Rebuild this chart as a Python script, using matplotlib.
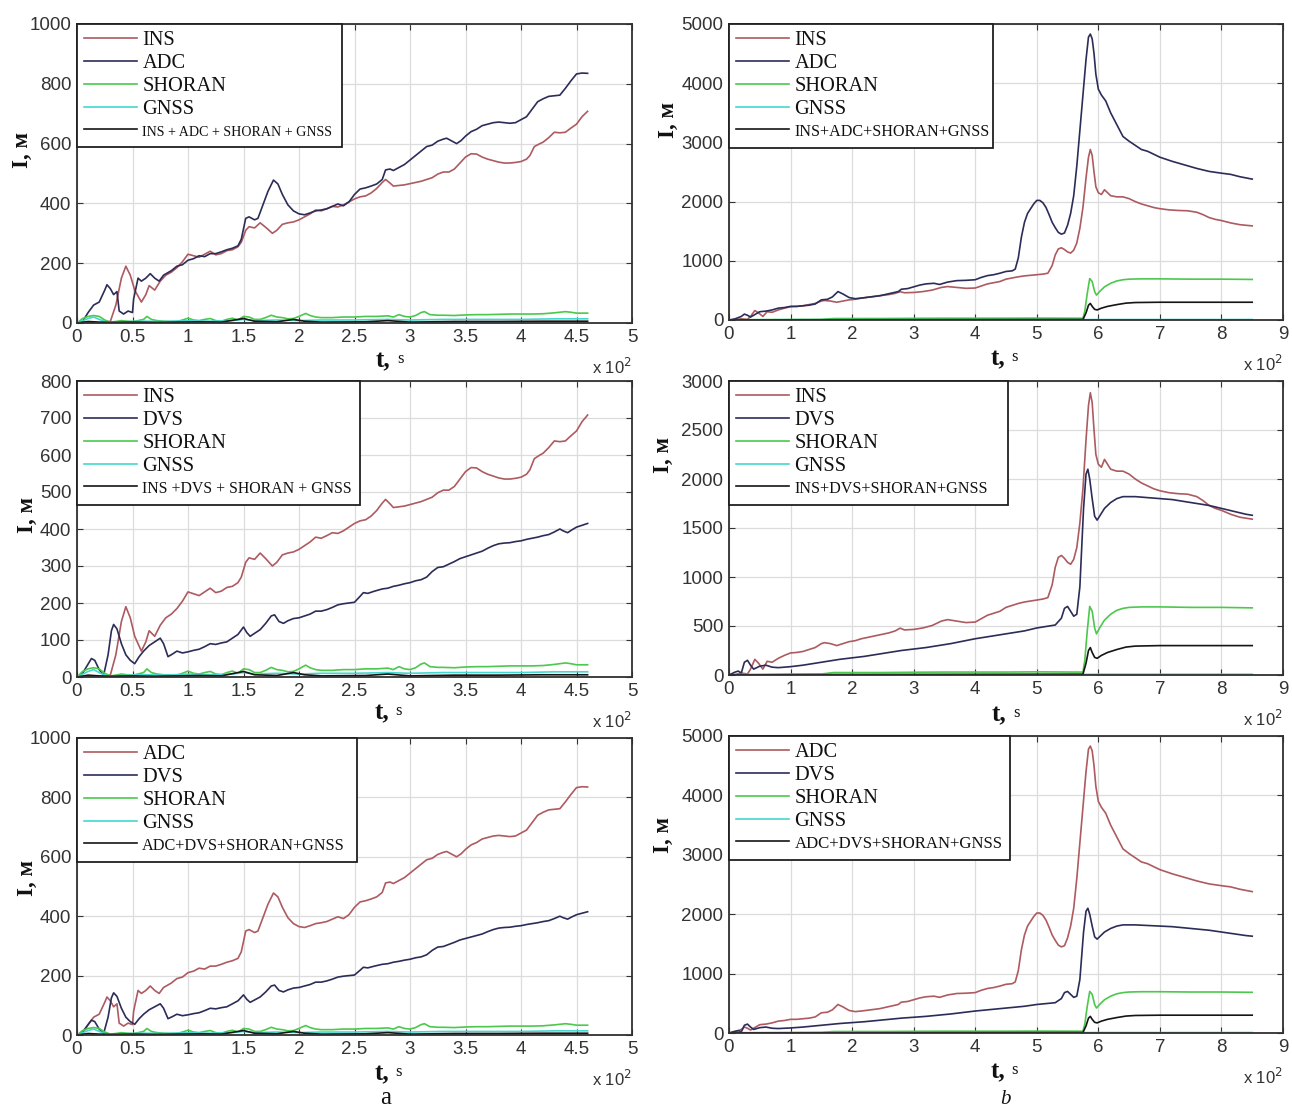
import matplotlib
matplotlib.use("Agg")
import matplotlib.pyplot as plt
from matplotlib.ticker import MultipleLocator, FuncFormatter

# ---------------- data (left column, t in seconds) ----------------
t_ins_a = [0, 10, 20, 30, 35, 40, 44, 48, 52, 58, 62, 65, 70, 75, 80, 85, 90, 95, 100, 105, 110, 115, 120, 125,
           130, 135, 140, 145, 148, 152, 155, 160, 165, 170, 176, 180, 185, 190, 195, 200, 205, 210, 215, 220,
           225, 230, 235, 240, 245, 250, 255, 260, 265, 270, 275, 278, 282, 285, 290, 295, 300, 305, 310, 315,
           320, 325, 330, 335, 340, 345, 350, 355, 360, 365, 370, 375, 380, 385, 390, 395, 400, 405, 408, 412,
           416, 420, 425, 430, 435, 440, 445, 450, 455, 460]
ins_a = [0, 2, 0, 5, 60, 150, 190, 160, 110, 70, 95, 125, 110, 140, 160, 170, 185, 205, 230, 225, 220, 230, 240, 228,
         232, 242, 245, 255, 270, 310, 322, 318, 335, 320, 300, 310, 330, 335, 338, 345, 355, 365, 378, 375,
         382, 390, 388, 395, 405, 415, 422, 425, 435, 450, 470, 480, 468, 458, 460, 462, 466, 470, 474, 480,
         486, 498, 505, 505, 515, 535, 555, 566, 565, 555, 548, 543, 538, 535, 535, 537, 540, 548, 560, 590,
         598, 605, 620, 638, 636, 638, 652, 665, 690, 708]

t_adc_a = [0, 5, 10, 15, 20, 25, 27, 30, 33, 36, 38, 42, 46, 50, 51, 55, 58, 62, 66, 70, 74, 78, 85, 90, 95, 100,
           105, 110, 115, 120, 125, 130, 135, 140, 145, 148, 152, 155, 160, 163, 167, 172, 177, 181, 185, 190,
           195, 200, 205, 210, 215, 220, 225, 230, 235, 240, 245, 250, 255, 260, 265, 270, 275, 278, 282, 285,
           290, 295, 300, 305, 310, 315, 320, 325, 330, 333, 337, 342, 346, 350, 355, 360, 365, 370, 375, 380,
           385, 390, 395, 400, 405, 410, 415, 420, 425, 430, 435, 440, 445, 450, 455, 460]
adc_a = [0, 5, 35, 60, 70, 110, 128, 115, 95, 105, 40, 30, 40, 35, 80, 150, 140, 150, 165, 150, 140, 160, 175, 190,
         195, 210, 215, 225, 222, 232, 232, 238, 245, 250, 258, 280, 350, 355, 345, 350, 390, 440, 478, 465,
         430, 395, 375, 365, 362, 368, 375, 378, 382, 390, 398, 392, 405, 430, 448, 452, 458, 465, 480, 512,
         515, 510, 520, 530, 545, 560, 575, 590, 595, 608, 615, 618, 610, 600, 610, 625, 640, 648, 660, 665,
         670, 672, 670, 668, 670, 680, 690, 715, 740, 750, 758, 760, 762, 785, 810, 833, 836, 835]

t_dvs_a = [0, 5, 10, 13, 16, 20, 24, 28, 31, 33, 36, 40, 44, 48, 52, 56, 60, 65, 70, 75, 78, 82, 86, 90, 95, 100,
           105, 110, 115, 120, 125, 130, 135, 140, 145, 150, 153, 156, 160, 165, 170, 175, 178, 182, 186, 190,
           195, 200, 205, 210, 215, 220, 225, 230, 235, 240, 245, 250, 255, 258, 262, 268, 275, 280, 285, 290,
           295, 300, 305, 310, 315, 320, 325, 330, 335, 340, 345, 350, 355, 360, 365, 370, 375, 380, 385, 390,
           395, 400, 405, 410, 415, 420, 425, 430, 435, 438, 442, 446, 450, 455, 460]
dvs_a = [0, 10, 35, 50, 45, 20, 5, 60, 125, 142, 130, 90, 60, 45, 36, 55, 70, 85, 95, 105, 90, 55, 62, 70, 65, 68,
         72, 75, 82, 90, 88, 92, 95, 105, 115, 135, 120, 110, 118, 128, 145, 165, 168, 150, 145, 152,
         158, 160, 165, 170, 178, 178, 182, 188, 195, 198, 200, 202, 218, 228, 226, 232, 238, 240, 245, 248,
         252, 255, 260, 263, 270, 285, 296, 298, 305, 312, 320, 325, 330, 335, 340, 348, 355, 360, 362, 363,
         366, 368, 372, 375, 378, 382, 385, 392, 400, 395, 390, 398, 405, 410, 415]

t_shoran_a = [0, 5, 10, 15, 20, 25, 30, 35, 40, 45, 50, 55, 60, 63, 67, 72, 78, 85, 90, 95, 100, 105, 110, 115,
              120, 125, 130, 135, 140, 145, 150, 155, 160, 165, 170, 175, 180, 185, 190, 195, 200, 206, 210, 215,
              220, 230, 240, 250, 260, 270, 280, 285, 290, 295, 300, 305, 310, 313, 318, 325, 330, 340, 350, 360,
              370, 380, 390, 400, 410, 420, 430, 440, 445, 450, 460]
shoran_a = [0, 15, 22, 25, 22, 10, 3, 5, 8, 6, 5, 8, 12, 22, 12, 8, 6, 5, 5, 10, 16, 10, 8, 12,
            15, 8, 6, 12, 16, 10, 22, 20, 12, 12, 18, 26, 20, 18, 14, 15, 22, 32, 25, 20,
            18, 18, 20, 20, 22, 22, 24, 20, 28, 22, 20, 25, 35, 38, 28, 26, 26, 25, 27, 28,
            28, 29, 30, 30, 30, 31, 34, 38, 36, 33, 33]

t_gnss_a = [0, 10, 15, 20, 25, 30, 40, 60, 80, 100, 120, 140, 150, 160, 180, 200, 220, 250, 280, 300, 330, 360,
            400, 430, 460]
gnss_a = [0, 15, 20, 12, 5, 2, 4, 6, 5, 8, 6, 8, 12, 8, 10, 8, 10, 10, 12, 10, 12, 12, 12, 14, 14]

t_comb_a = [0, 10, 20, 30, 50, 70, 90, 110, 130, 150, 160, 180, 195, 205, 220, 260, 280, 300, 340, 380, 420, 460]
comb_a = [0, 5, 3, 2, 3, 2, 3, 4, 3, 15, 6, 4, 12, 6, 3, 4, 8, 3, 5, 5, 6, 6]

# ---------------- data (right column, t in seconds) ----------------
t_ins_b = [0, 10, 20, 30, 35, 42, 48, 55, 62, 70, 80, 90, 100, 110, 120, 130, 140, 150, 155, 165, 175, 185, 195,
           205, 215, 230, 245, 260, 270, 278, 285, 300, 315, 330, 345, 355, 370, 385, 400, 410, 420, 430, 440,
           450, 460, 470, 480, 490, 500, 510, 518, 525, 530, 535, 540, 545, 550, 555, 560, 565, 570, 575, 580,
           584, 587, 590, 593, 596, 600, 605, 610, 615, 620, 630, 640, 650, 660, 670, 680, 690, 700, 715, 730,
           745, 760, 770, 780, 790, 800, 815, 830, 850]
ins_b = [0, 5, 20, 10, 60, 160, 120, 60, 140, 130, 170, 200, 225, 230, 240, 260, 280, 320, 330, 320, 300, 320, 340,
         350, 370, 390, 410, 430, 450, 478, 460, 465, 480, 505, 550, 565, 550, 535, 540, 575, 610, 630, 650,
         690, 710, 730, 745, 755, 765, 775, 790, 920, 1100, 1200, 1220, 1190, 1150, 1130, 1180, 1300, 1550, 1900, 2400,
         2750, 2880, 2780, 2500, 2250, 2150, 2120, 2200, 2150, 2100, 2080, 2080, 2050, 2000, 1960, 1930, 1900, 1880, 1860, 1850,
         1845, 1820, 1780, 1730, 1700, 1680, 1640, 1610, 1590]

t_adc_b = [0, 10, 20, 25, 30, 35, 40, 50, 60, 70, 80, 90, 100, 110, 120, 130, 140, 150, 160, 168, 177, 185, 195,
           205, 215, 230, 245, 260, 275, 280, 290, 300, 310, 320, 333, 342, 355, 370, 385, 400, 410, 420, 430,
           440, 450, 460, 465, 470, 475, 480, 485, 490, 495, 500, 505, 510, 515, 520, 525, 530, 535, 540, 545,
           550, 555, 560, 565, 570, 575, 580, 584, 587, 590, 593, 596, 600, 605, 612, 620, 630, 640, 650, 660,
           670, 680, 690, 700, 720, 740, 760, 780, 800, 815, 830, 850]
adc_b = [0, 20, 60, 100, 80, 50, 80, 140, 150, 170, 200, 210, 230, 230, 240, 250, 270, 340, 350, 390, 480, 440, 380,
         360, 370, 390, 410, 445, 480, 520, 530, 560, 590, 610, 620, 600, 640, 665, 670, 680, 720, 750, 765,
         790, 820, 830, 860, 1050, 1400, 1650, 1800, 1880, 1960, 2020, 2020, 1980, 1900, 1780, 1650, 1560, 1480, 1450, 1470,
         1600, 1800, 2100, 2600, 3200, 3800, 4400, 4780, 4830, 4750, 4500, 4150, 3900, 3800, 3700, 3500, 3300, 3100, 3020, 2950,
         2880, 2850, 2800, 2750, 2680, 2620, 2560, 2510, 2480, 2460, 2420, 2380]

t_dvs_b = [0, 10, 15, 20, 25, 30, 35, 40, 50, 60, 70, 80, 90, 100, 120, 140, 160, 180, 200, 220, 240, 260, 280,
           300, 320, 340, 360, 380, 400, 420, 440, 460, 480, 500, 520, 530, 540, 545, 550, 555, 560, 565, 570,
           573, 576, 580, 583, 586, 590, 594, 598, 602, 610, 620, 630, 640, 660, 680, 700, 720, 740, 760, 780,
           800, 820, 840, 850]
dvs_b = [0, 30, 40, 20, 130, 150, 100, 60, 90, 100, 80, 75, 80, 85, 100, 120, 140, 160, 175, 190, 210, 230, 250,
         265, 280, 300, 320, 345, 370, 390, 410, 430, 450, 480, 500, 510, 580, 680, 700, 650, 600, 620, 900,
         1300, 1700, 2050, 2100, 2000, 1800, 1620, 1580, 1620, 1700, 1760, 1800, 1820, 1820, 1810, 1800, 1790, 1770, 1750, 1730,
         1700, 1670, 1640, 1630]

t_shoran_b = [0, 20, 50, 100, 150, 170, 200, 250, 300, 350, 400, 450, 500, 560, 575, 578, 582, 586, 590, 594, 597,
              602, 610, 620, 630, 640, 650, 670, 700, 750, 800, 850]
shoran_b = [0, 5, 5, 8, 10, 25, 25, 25, 28, 30, 30, 30, 32, 30, 30, 150, 450, 700, 650, 480, 420,
            480, 560, 620, 660, 680, 690, 695, 695, 690, 690, 685]

t_gnss_b = [0, 50, 100, 200, 300, 400, 500, 575, 600, 700, 850]
gnss_b = [0, 5, 5, 6, 6, 6, 6, 6, 8, 8, 8]

t_comb_b = [0, 100, 300, 575, 580, 584, 587, 590, 594, 598, 605, 615, 630, 645, 660, 700, 850]
comb_b = [0, 3, 5, 8, 120, 250, 280, 230, 180, 170, 200, 230, 260, 285, 295, 300, 300]

# ---------------- labels ----------------
combo_labels = ["INS + ADC + SHORAN + GNSS", "INS+ADC+SHORAN+GNSS",
                "INS +DVS + SHORAN + GNSS", "INS+DVS+SHORAN+GNSS",
                "ADC+DVS+SHORAN+GNSS", "ADC+DVS+SHORAN+GNSS"]
y_maxes = [1000, 5000, 800, 3000, 1000, 5000]
y_steps = [200, 1000, 100, 500, 200, 1000]

# ---------------- styling ----------------
C_RED = "#ad5a60"
C_NAVY = "#2c2c58"
C_GREEN = "#4cc84c"
C_CYAN = "#44d8d0"
C_BLACK = "#151515"

W, H = 1292, 1111
fig = plt.figure(figsize=(W / 100, H / 100), dpi=100)

TICKFONT = ["Liberation Sans Narrow", "Liberation Sans", "DejaVu Sans"]
SERIF = ["Liberation Serif", "DejaVu Serif"]

# axes rectangles in pixels: left, top, right, bottom
rects = [(77, 24, 632, 323), (729, 24, 1283, 320),
         (77, 381, 632, 677), (729, 381, 1283, 675),
         (77, 738, 632, 1035), (729, 736, 1283, 1033)]

series_sets = [
    [("INS", t_ins_a, ins_a, C_RED), ("ADC", t_adc_a, adc_a, C_NAVY)],
    [("INS", t_ins_b, ins_b, C_RED), ("ADC", t_adc_b, adc_b, C_NAVY)],
    [("INS", t_ins_a, ins_a, C_RED), ("DVS", t_dvs_a, dvs_a, C_NAVY)],
    [("INS", t_ins_b, ins_b, C_RED), ("DVS", t_dvs_b, dvs_b, C_NAVY)],
    [("ADC", t_adc_a, adc_a, C_RED), ("DVS", t_dvs_a, dvs_a, C_NAVY)],
    [("ADC", t_adc_b, adc_b, C_RED), ("DVS", t_dvs_b, dvs_b, C_NAVY)],
]

legend_w = [265, 264, 283, 279, 280, 281]
combo_fs = [10.1, 11.6, 11.4, 11.6, 11.7, 12.1]
tlabel_pos = [(383, 361), (998, 359), (382, 713), (999, 715), (382, 1074), (998, 1072)]
ylabel_pos = [(22, 150), (668, 120), (27, 515), (663, 455), (27, 878), (663, 835)]


def fx(px):
    return px / W


def fy(py):
    return 1 - py / H


for i in range(6):
    l, t, r, b = rects[i]
    ax = fig.add_axes([fx(l), fy(b), (r - l) / W, (b - t) / H])
    left = (i % 2 == 0)
    xmax = 500 if left else 900
    for lab, tt, yy, col in series_sets[i]:
        ax.plot(tt, yy, color=col, lw=1.2, label=lab)
    if left:
        ax.plot(t_shoran_a, shoran_a, color=C_GREEN, lw=1.2, label="SHORAN")
        ax.plot(t_gnss_a, gnss_a, color=C_CYAN, lw=1.2, label="GNSS")
        ax.plot(t_comb_a, comb_a, color=C_BLACK, lw=1.2, label=combo_labels[i])
    else:
        ax.plot(t_shoran_b, shoran_b, color=C_GREEN, lw=1.2, label="SHORAN")
        ax.plot(t_gnss_b, gnss_b, color=C_CYAN, lw=1.2, label="GNSS")
        ax.plot(t_comb_b, comb_b, color=C_BLACK, lw=1.2, label=combo_labels[i])

    ax.set_xlim(0, xmax)
    ax.set_ylim(0, y_maxes[i])
    ax.xaxis.set_major_locator(MultipleLocator(50 if left else 100))
    ax.yaxis.set_major_locator(MultipleLocator(y_steps[i]))
    ax.xaxis.set_major_formatter(FuncFormatter(lambda v, p: f"{v / 100:g}"))
    ax.yaxis.set_major_formatter(FuncFormatter(lambda v, p: f"{v:g}"))
    ax.grid(True, color="#dcdcdc", lw=0.9)
    ax.set_axisbelow(True)
    ax.tick_params(direction="in", top=True, right=True, length=4, width=0.8,
                   labelsize=13.5, pad=4, color="#333333")
    for lb in ax.get_xticklabels() + ax.get_yticklabels():
        lb.set_fontfamily(TICKFONT)
        lb.set_color("#333333")
    for sp in ax.spines.values():
        sp.set_linewidth(1.3)
        sp.set_color("#303030")

    lw_frac = legend_w[i] / (r - l)
    leg = ax.legend(loc="upper left", bbox_to_anchor=(0, 1, lw_frac, 0), mode="expand",
                    borderaxespad=0, fancybox=False, framealpha=1, edgecolor="#202020",
                    prop={"family": SERIF, "size": 14.7}, handlelength=2.6, handletextpad=0.25,
                    labelspacing=0.17, borderpad=0.35)
    leg.get_frame().set_linewidth(1.3)
    leg.texts[-1].set_fontsize(combo_fs[i])
    for txt in leg.texts:
        txt.set_color("#111111")

    # axis labels
    tx, ty = tlabel_pos[i]
    fig.text(fx(tx), fy(ty), "t,", ha="center", va="center", fontsize=18,
             fontweight="bold", family=SERIF, color="#111111")
    fig.text(fx(tx + 17), fy(ty - 2), "s", ha="center", va="center", fontsize=12,
             family=SERIF, color="#111111")
    yx, yy_ = ylabel_pos[i]
    fig.text(fx(yx), fy(yy_), "I, м", ha="center", va="center", rotation=90, fontsize=16.5,
             fontweight="bold", family=SERIF, color="#111111")
    # offset multiplier
    fig.text(fx(r - 20), fy(b + 44), r"x 10$^{2}$", ha="center", va="center", fontsize=12,
             family=TICKFONT, color="#333333")

fig.text(fx(386), fy(1098), "a", ha="center", va="center", fontsize=18, family=SERIF, color="#111111")
fig.text(fx(1005), fy(1100), "b", ha="center", va="center", fontsize=15, family=SERIF,
         style="italic", color="#111111")

fig.savefig("out.png", dpi=100)
